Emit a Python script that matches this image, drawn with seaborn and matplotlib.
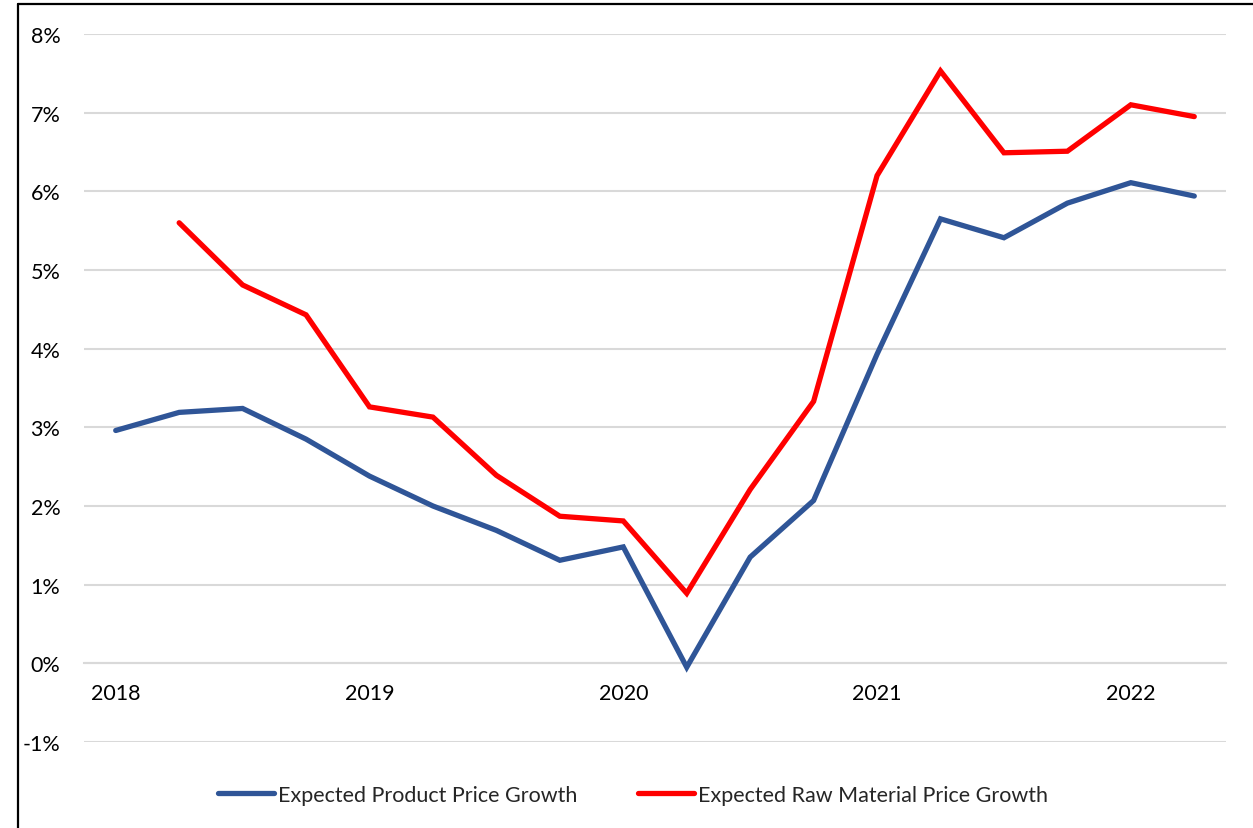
import numpy as np
import pandas as pd
import matplotlib
matplotlib.use("Agg")
import matplotlib.pyplot as plt
from matplotlib.lines import Line2D
import seaborn as sns

# Quarterly survey expectations, 2018 Q1 – 2022 Q2 (percent)
quarters = ["2018Q1", "2018Q2", "2018Q3", "2018Q4",
            "2019Q1", "2019Q2", "2019Q3", "2019Q4",
            "2020Q1", "2020Q2", "2020Q3", "2020Q4",
            "2021Q1", "2021Q2", "2021Q3", "2021Q4",
            "2022Q1", "2022Q2"]
product_growth = [2.96, 3.19, 3.24, 2.85, 2.38, 2.00, 1.69, 1.31, 1.48,
                  -0.05, 1.35, 2.07, 3.93, 5.65, 5.41, 5.85, 6.11, 5.94]
raw_material_growth = [np.nan, 5.60, 4.81, 4.43, 3.26, 3.13, 2.39, 1.87, 1.81,
                       0.89, 2.21, 3.33, 6.20, 7.53, 6.49, 6.51, 7.10, 6.95]
series_names = ["Expected Product Price Growth", "Expected Raw Material Price Growth"]
series_colors = ["#2F5597", "#FF0000"]
year_labels = ["2018", "2019", "2020", "2021", "2022"]
y_ticks = [-1, 0, 1, 2, 3, 4, 5, 6, 7, 8]

n = len(quarters)
df = pd.DataFrame({
    "pos": list(range(n)) * 2,
    "value": product_growth + raw_material_growth,
    "series": [series_names[0]] * n + [series_names[1]] * n,
})

sns.set_theme(style="white")
plt.rcParams["font.family"] = ["Lato", "DejaVu Sans"]
FS = 15.5

fig = plt.figure(figsize=(12.53, 8.29), dpi=100)
W, H = 1253, 829
ax = fig.add_axes([84 / W, 1 - 743 / H, (1226 - 84) / W, (743 - 35) / H])

sns.lineplot(data=df, x="pos", y="value", hue="series", hue_order=series_names,
             palette=series_colors, linewidth=3.8, ax=ax, legend=True,
             solid_capstyle="round", solid_joinstyle="miter")

ax.set_xlim(-0.5, n - 0.5)
ax.set_ylim(-1, 8)
ax.set_yticks(y_ticks)
ax.set_yticklabels([f"{v}%" for v in y_ticks])
ax.yaxis.grid(True, color="#D9D9D9", linewidth=1.5)
ax.set_axisbelow(True)
ax.set_xlabel("")
ax.set_ylabel("")

for side in ["top", "right", "left"]:
    ax.spines[side].set_visible(False)
ax.spines["bottom"].set_position(("data", 0))
ax.spines["bottom"].set_color("#D9D9D9")
ax.spines["bottom"].set_linewidth(1.5)
ax.spines["bottom"].set_zorder(1)

# Quarter boundaries as tick marks, year labels centred on each Q1
ax.set_xticks(np.arange(-0.5, n, 1.0))
ax.set_xticklabels([])
ax.tick_params(axis="x", which="major", length=6, width=1.5, color="#D9D9D9",
               direction="out")
ax.set_xticks(list(range(0, n, 4)), minor=True)
ax.set_xticklabels(year_labels, minor=True)
ax.tick_params(axis="x", which="minor", length=0, pad=14, labelsize=FS,
               labelcolor="#000000")
ax.tick_params(axis="y", length=0, pad=17, labelsize=FS, labelcolor="#000000")

handles, labels = ax.get_legend_handles_labels()
ax.get_legend().remove()
fig.legend(handles, labels, loc="center", bbox_to_anchor=(0.505, 1 - 796 / H),
           ncol=2, frameon=False, fontsize=FS, handlelength=2.6,
           handletextpad=0.2, columnspacing=2.8)
for h in fig.legends[0].get_lines():
    h.set_linewidth(3.8)

# Frame of the exhibit
fig.add_artist(Line2D([17.5 / W, 17.5 / W], [0, 1 - 5 / H], transform=fig.transFigure,
                      color="black", linewidth=1.6))
fig.add_artist(Line2D([17.5 / W, 1], [1 - 5 / H, 1 - 5 / H], transform=fig.transFigure,
                      color="black", linewidth=1.6))

fig.savefig("out.png", dpi=100)
